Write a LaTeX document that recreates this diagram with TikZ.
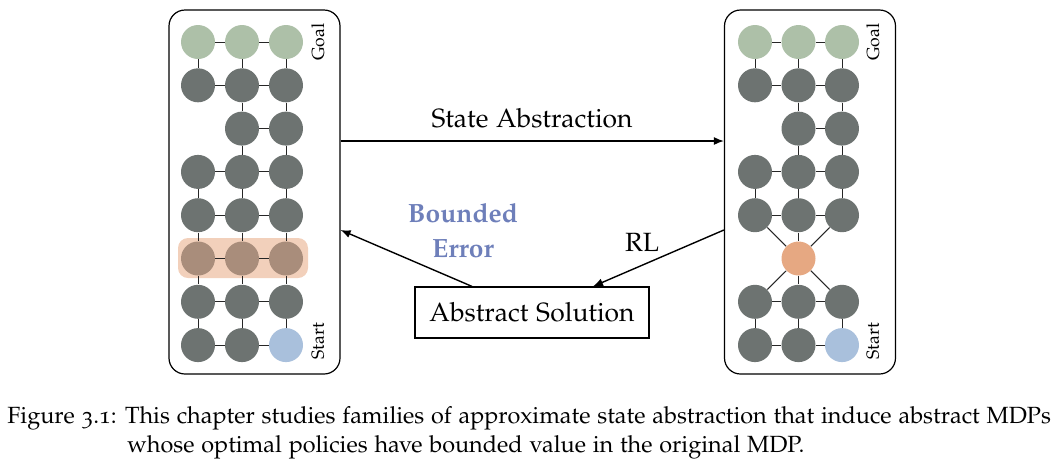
\documentclass[tikz,border=0pt]{standalone}
\usepackage[T1]{fontenc}
\usepackage[osf]{mathpazo}
\usetikzlibrary{arrows.meta}
\definecolor{goalc}{HTML}{ADC0A8}
\definecolor{cellc}{HTML}{6D7371}
\definecolor{startc}{HTML}{A9C0DC}
\definecolor{abstc}{HTML}{E6A882}
\definecolor{bandc}{HTML}{F2D0BB}
\definecolor{bandcell}{HTML}{A98D7B}
\definecolor{errc}{HTML}{6E7FBA}
\tikzset{
  dot/.style={circle, minimum size=17pt, inner sep=0pt},
  cell/.style={dot, fill=cellc},
  goal/.style={dot, fill=goalc},
  startcell/.style={dot, fill=startc},
  bcell/.style={dot, fill=bandcell},
  acell/.style={dot, fill=abstc},
  edge/.style={line width=0.5pt, black!85},
  frame/.style={draw, line width=0.6pt, rounded corners=8pt, minimum width=85.5pt, minimum height=182pt, inner sep=0pt},
  flow/.style={line width=0.7pt, -{Latex[length=5pt,width=4pt]}},
  lab/.style={font=\fontsize{13.2}{17.5}\selectfont},
  side/.style={font=\fontsize{8.8}{10}\selectfont, rotate=90},
  captext/.style={anchor=base west, font=\fontsize{11.72}{14}\selectfont, inner sep=0pt}
}
\begin{document}
\begin{tikzpicture}[x=0.5pt,y=-0.5pt]
\useasboundingbox (0,0) rectangle (1061,468);
% frames
\node[frame] (L) at (254.5,192) {};
\node[frame] (R) at (810,192) {};
% highlight band
\fill[bandc, rounded corners=5pt] (178,238) rectangle (308,278);
% left grid
\foreach \c/\x in {1/198,2/242,3/286} {
  \node[goal] (L1\c) at (\x,42) {};
  \node[cell] (L2\c) at (\x,85.3) {};
  \node[cell] (L4\c) at (\x,171.9) {};
  \node[cell] (L5\c) at (\x,215.2) {};
  \node[bcell] (L6\c) at (\x,258.5) {};
  \node[cell] (L7\c) at (\x,301.8) {};
}
\node[cell] (L32) at (242,128.6) {};
\node[cell] (L33) at (286,128.6) {};
\node[cell] (L81) at (198,345.1) {};
\node[cell] (L82) at (242,345.1) {};
\node[startcell] (L83) at (286,345.1) {};
\foreach \a/\b in {L11/L12,L12/L13,L21/L22,L22/L23,L32/L33,L41/L42,L42/L43,L51/L52,L52/L53,L61/L62,L62/L63,L71/L72,L72/L73,L81/L82,L82/L83,
  L11/L21,L12/L22,L13/L23,L22/L32,L23/L33,L32/L42,L33/L43,L41/L51,L42/L52,L43/L53,L51/L61,L52/L62,L53/L63,L61/L71,L62/L72,L63/L73,L71/L81,L72/L82,L73/L83}
  \draw[edge] (\a) -- (\b);
% right grid
\foreach \c/\x in {1/755,2/798.5,3/842} {
  \node[goal] (R1\c) at (\x,42) {};
  \node[cell] (R2\c) at (\x,85.3) {};
  \node[cell] (R4\c) at (\x,171.9) {};
  \node[cell] (R5\c) at (\x,215.2) {};
  \node[cell] (R7\c) at (\x,301.8) {};
}
\node[cell] (R32) at (798.5,128.6) {};
\node[cell] (R33) at (842,128.6) {};
\node[acell] (R62) at (798.5,258.5) {};
\node[cell] (R81) at (755,345.1) {};
\node[cell] (R82) at (798.5,345.1) {};
\node[startcell] (R83) at (842,345.1) {};
\foreach \a/\b in {R11/R12,R12/R13,R21/R22,R22/R23,R32/R33,R41/R42,R42/R43,R51/R52,R52/R53,R71/R72,R72/R73,R81/R82,R82/R83,
  R11/R21,R12/R22,R13/R23,R22/R32,R23/R33,R32/R42,R33/R43,R41/R51,R42/R52,R43/R53,R51/R62,R52/R62,R53/R62,R62/R71,R62/R72,R62/R73,R71/R81,R72/R82,R73/R83}
  \draw[edge] (\a) -- (\b);
% side labels
\node[side] (lg) at (318,42) {Goal};
\node[side] (ls) at (318,341) {Start};
\node[side] (rg) at (873,42) {Goal};
\node[side] (rs) at (873,341) {Start};
% abstract solution
\node[draw, line width=0.6pt, minimum width=117pt, minimum height=25.5pt, lab] (AS) at (532,312.5) {Abstract Solution};
% arrows
\draw[flow] ([yshift=25.5pt]L.east) -- ([yshift=25.5pt]R.east -| R.west);
\node[lab] (sa) at (532,118) {State Abstraction};
\draw[flow] ([yshift=-19pt]R.west) -- ([xshift=30.5pt]AS.north);
\node[lab] (rl) at (642,242) {RL};
\draw[flow] ([xshift=-30pt]AS.north) -- ([yshift=-19pt]L.east);
\node[lab, align=center, text=errc, font=\fontsize{13.2}{17.5}\selectfont\bfseries] (be) at (463,230.5) {Bounded\\Error};
% caption
\node[captext] (c1) at (7,423) {Figure 3.1: This chapter studies families of approximate state abstraction that induce abstract MDPs};
\node[captext] (c2) at (127,452) {whose optimal policies have bounded value in the original MDP.};
\end{tikzpicture}
\end{document}
